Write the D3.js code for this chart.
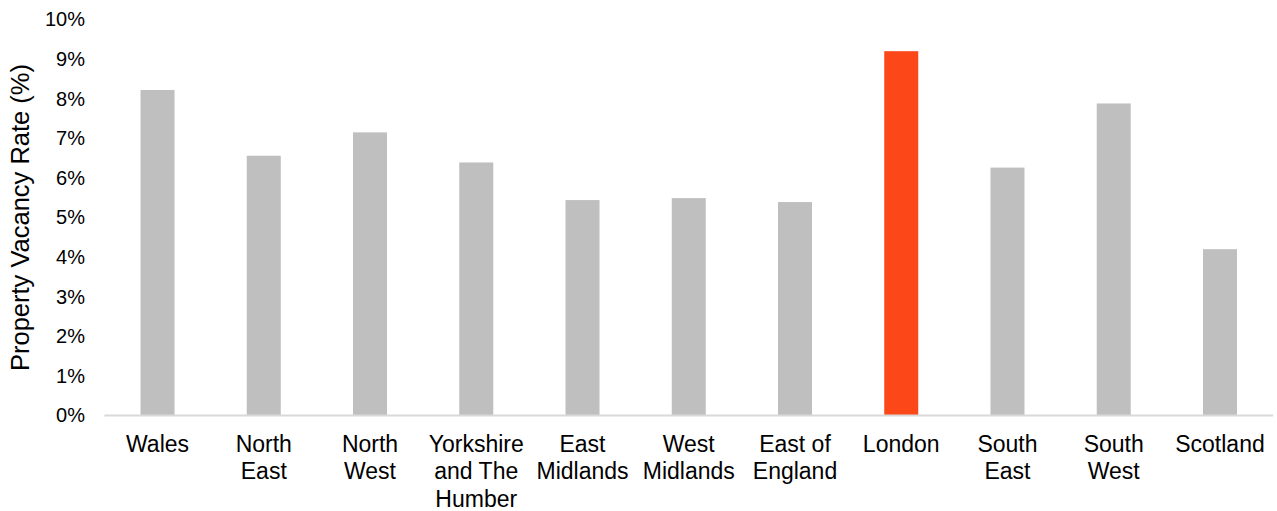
<!DOCTYPE html>
<html>
<head>
<meta charset="utf-8">
<script src="https://cdn.jsdelivr.net/npm/d3@7"></script>
<style>
  html, body { margin: 0; padding: 0; background: #fff; }
  svg { display: block; font-family: "Liberation Sans", Arial, sans-serif; }
</style>
</head>
<body>
<svg id="chart" width="1277" height="511"></svg>
<script>
// Regional property vacancy rates (%)
const regions = ["Wales", "North East", "North West", "Yorkshire and The Humber", "East Midlands",
  "West Midlands", "East of England", "London", "South East", "South West", "Scotland"];
const regionLines = [["Wales"], ["North", "East"], ["North", "West"], ["Yorkshire", "and The", "Humber"],
  ["East", "Midlands"], ["West", "Midlands"], ["East of", "England"], ["London"],
  ["South", "East"], ["South", "West"], ["Scotland"]];
const vacancyRate = [8.22, 6.56, 7.15, 6.39, 5.44, 5.49, 5.39, 9.2, 6.26, 7.88, 4.2];
const highlighted = ["London"];
const yTicks = [0, 1, 2, 3, 4, 5, 6, 7, 8, 9, 10];

const svg = d3.select("#chart");
const plotLeft = 104.4, plotRight = 1273.1, plotTop = 19.5, plotBottom = 415.5;

const x = d3.scaleBand().domain(regions).range([plotLeft, plotRight]).paddingInner(0.68).paddingOuter(0.34);
const y = d3.scaleLinear().domain([0, 10]).range([plotBottom, plotTop]);

// Bars
svg.append("g").selectAll("rect")
  .data(regions)
  .join("rect")
  .attr("x", d => x(d))
  .attr("width", x.bandwidth())
  .attr("y", (d, i) => y(vacancyRate[i]))
  .attr("height", (d, i) => y(0) - y(vacancyRate[i]))
  .attr("fill", d => highlighted.includes(d) ? "#fc4819" : "#bfbfbf");

// Baseline
svg.append("line")
  .attr("x1", plotLeft).attr("x2", plotRight)
  .attr("y1", y(0)).attr("y2", y(0))
  .attr("stroke", "#d9d9d9").attr("stroke-width", 2);

// Y axis (labels only)
const yAxis = d3.axisLeft(y).tickValues(yTicks).tickFormat(d => d + "%").tickSize(0).tickPadding(0);
const gy = svg.append("g").attr("transform", "translate(85,0)").call(yAxis);
gy.select(".domain").remove();
gy.selectAll("text").attr("font-size", 20).attr("fill", "#000")
  .attr("font-family", "Liberation Sans, Arial, sans-serif");

// X axis category labels (wrapped)
const xAxis = d3.axisBottom(x).tickSize(0).tickFormat("");
const gx = svg.append("g").attr("transform", `translate(0,${plotBottom})`).call(xAxis);
gx.select(".domain").remove();
gx.selectAll(".tick").each(function(d, i) {
  const t = d3.select(this).append("text")
    .attr("text-anchor", "middle")
    .attr("font-size", 23)
    .attr("fill", "#000")
    .attr("font-family", "Liberation Sans, Arial, sans-serif");
  regionLines[i].forEach((line, k) => {
    t.append("tspan").attr("x", 0).attr("y", 36 + k * 27.5).text(line);
  });
});

// Y axis title
svg.append("text")
  .attr("transform", `translate(29,${(plotTop + plotBottom) / 2}) rotate(-90)`)
  .attr("text-anchor", "middle")
  .attr("font-size", 25.5)
  .attr("fill", "#000")
  .text("Property Vacancy Rate (%)");
</script>
</body>
</html>
